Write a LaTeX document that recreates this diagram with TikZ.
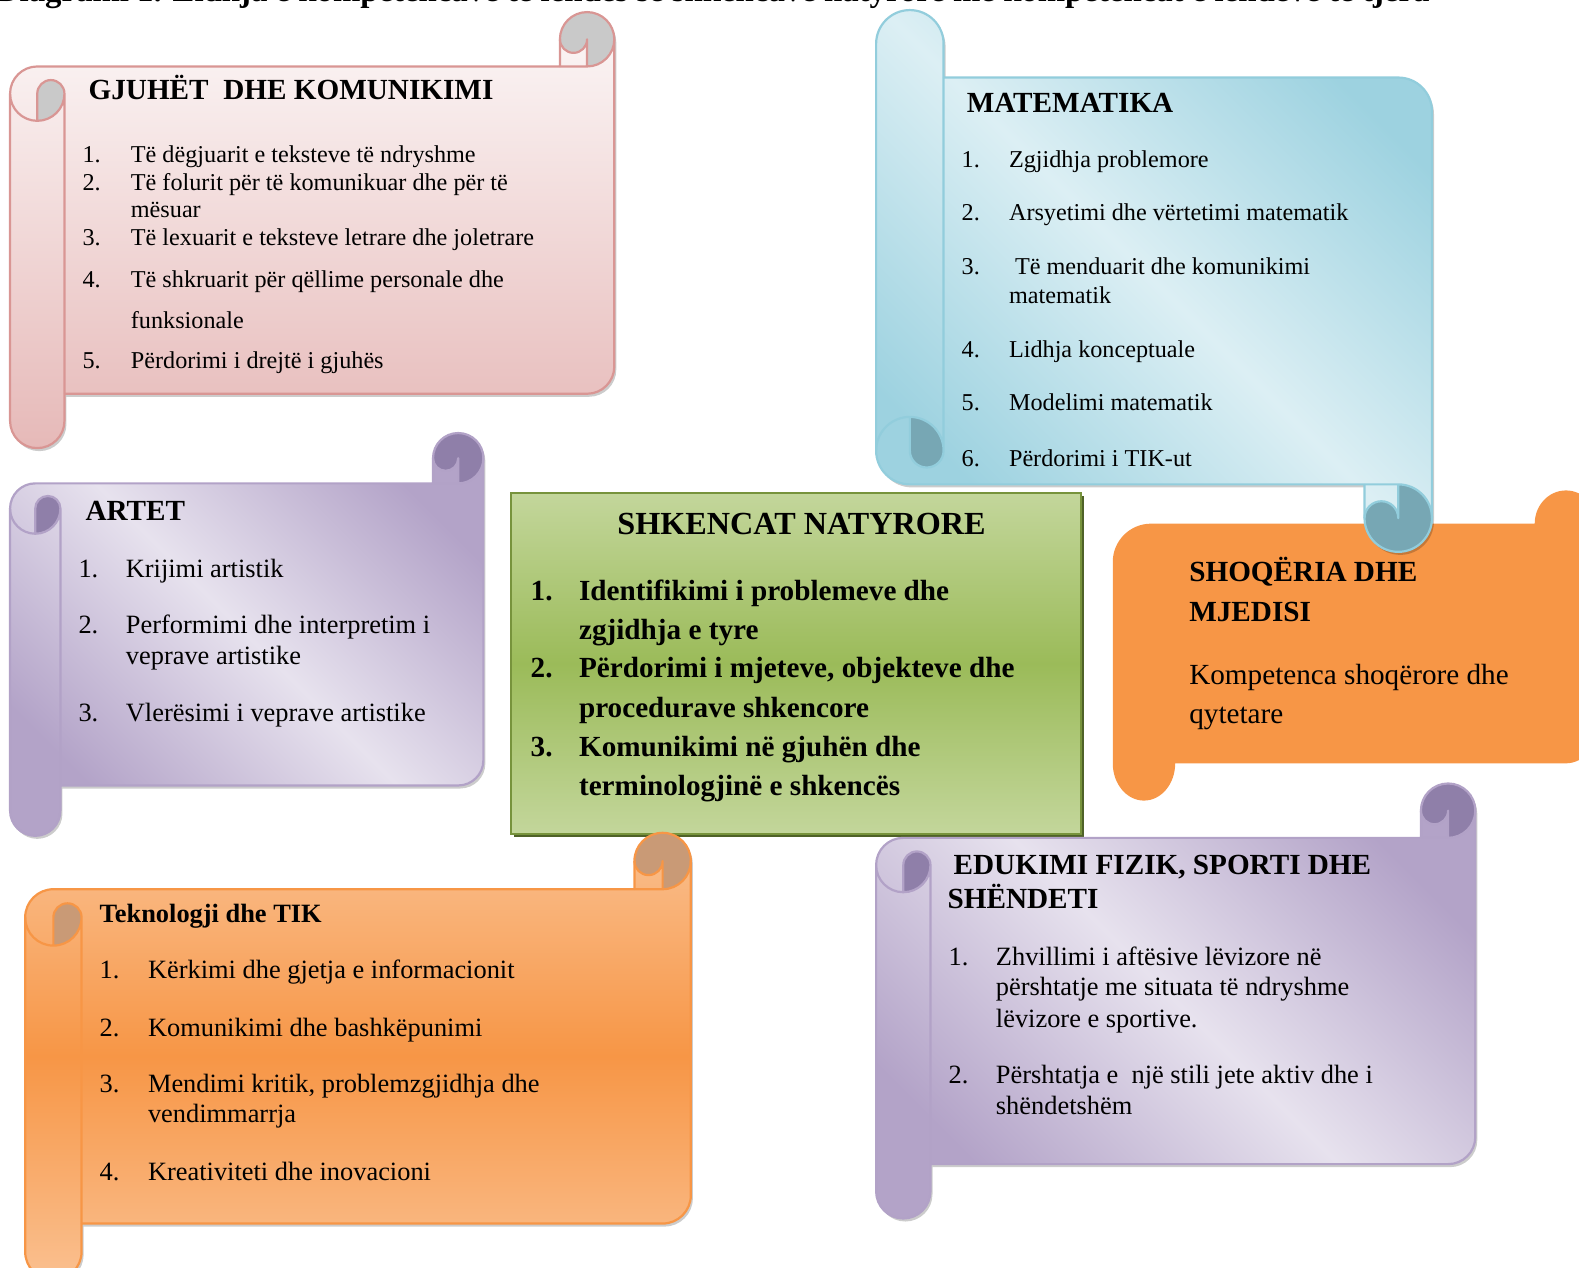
\documentclass[tikz,border=0pt]{standalone}
\usepackage{fontspec}
\setmainfont{Liberation Serif}
\definecolor{pinkline}{HTML}{D99694}
\definecolor{pinktop}{HTML}{FCF8F8}
\definecolor{pinkbot}{HTML}{E6B9B8}
\definecolor{curlgray}{HTML}{C9C9C9}
\definecolor{blueline}{HTML}{92CDDC}
\definecolor{bluedark}{HTML}{9DD2E0}
\definecolor{bluelight}{HTML}{DCEFF4}
\definecolor{bluecurl}{HTML}{77A7B4}
\definecolor{purpline}{HTML}{B2A2C7}
\definecolor{purpdark}{HTML}{B3A3C8}
\definecolor{purplight}{HTML}{E7E2EE}
\definecolor{purpcurl}{HTML}{8F7FA9}
\definecolor{orng}{HTML}{F79646}
\definecolor{orlight}{HTML}{FAC090}
\definecolor{orcurl}{HTML}{C99A76}
\definecolor{grnline}{HTML}{77933C}
\definecolor{grnshadow}{HTML}{4F6228}
\definecolor{grnlight}{HTML}{C3D69B}
\definecolor{grnmid}{HTML}{9BBB59}

\newcommand\scrollset[5]{\def\sL{#1}\def\sT{#2}\def\sR{#3}\def\sB{#4}\def\sC{#5}%
  \pgfmathsetmacro\sH{#5/2}\pgfmathsetmacro\sQ{#5/4}}
\newcommand\scrollpath{(\sL,\sT+1.5*\sC) arc[start angle=180,end angle=270,radius=\sH]
  -- (\sR-\sC,\sT+\sC) -- (\sR-\sC,\sT+\sH) arc[start angle=180,end angle=360,radius=\sH]
  -- (\sR,\sB-1.5*\sC) arc[start angle=0,end angle=90,radius=\sH]
  -- (\sL+\sC,\sB-\sC) -- (\sL+\sC,\sB-\sH) arc[start angle=0,end angle=180,radius=\sH] -- cycle}
\newcommand\curlApath{(\sL+\sH,\sT+2*\sC) arc[start angle=90,end angle=0,radius=\sH]
  arc[start angle=0,end angle=-180,radius=\sQ] -- cycle}
\newcommand\curlBpath{(\sR-\sH,\sT+\sC) arc[start angle=90,end angle=-180,radius=\sH]
  arc[start angle=180,end angle=0,radius=\sQ] -- cycle}
\newcommand\detailpath{(\sR-\sC,\sT+\sC) -- (\sR-\sH,\sT+\sC) arc[start angle=90,end angle=0,radius=\sH]
  (\sR-\sH,\sT+\sC) -- (\sR-\sH,\sT+\sH) arc[start angle=0,end angle=180,radius=\sQ]
  (\sL+\sH,\sT+2*\sC) -- (\sL+\sH,\sT+1.5*\sC) arc[start angle=180,end angle=360,radius=\sQ]
  arc[start angle=0,end angle=180,radius=\sH]
  (\sL+\sC,\sT+1.5*\sC) -- (\sL+\sC,\sB-\sC)}
\newcommand\drawscroll[4]{%
  \fill[black,opacity=.2,shift={#4}] \scrollpath;
  \shade[#1] \scrollpath;
  \fill[#3] \curlApath;
  \fill[#3] \curlBpath;
  \draw[#2,line width=1.1pt,line join=round] \scrollpath;
  \draw[#2,line width=1.1pt,line join=round] \detailpath;}

\tikzset{
 lbl/.style={anchor=base west, inner sep=0pt, outer sep=0pt},
 r12/.style={lbl, font=\fontsize{12.1}{14}\selectfont},
 r13/.style={lbl, font=\fontsize{13.2}{15}\selectfont},
 r145/.style={lbl, font=\fontsize{14.6}{17}\selectfont},
 b13/.style={lbl, font=\fontsize{13.2}{15}\selectfont\bfseries},
 b145/.style={lbl, font=\fontsize{14.6}{17}\selectfont\bfseries},
 b16/.style={anchor=base, inner sep=0pt, font=\fontsize{16.1}{19}\selectfont\bfseries},
 hdrfont/.style={lbl, font=\fontsize{16.4}{19}\selectfont\bfseries},
}

\begin{document}
\begin{tikzpicture}[x=0.50351pt,y=-0.50351pt]
\useasboundingbox (0,0) rectangle (1568,1259);
\begin{scope}
\clip (0,0) rectangle (1568,1259);

% header line (cut off at the top, as in the original)
\node[hdrfont] (hdr) at (-4,1) {Diagrami 1. Lidhja e kompetencave të lëndës së shkencave natyrore me kompetencat e lëndëve të tjera};

% GJUHET (pink)
\scrollset{10}{12}{610}{445}{54}
\drawscroll{top color=pinktop,bottom color=pinkbot}{pinkline}{curlgray}{(2,3)}

% ARTET (purple)
\scrollset{10}{430}{480}{830}{50}
\drawscroll{top color=purpdark,bottom color=purpdark,middle color=purplight,shading angle=-45}{purpline}{purpcurl}{(2,3)}

% SHOQERIA (orange solid)
\fill[orng] (1105,558) arc[start angle=180,end angle=270,radius=38] -- (1524,520)
  arc[start angle=180,end angle=360,x radius=31,y radius=33] -- (1586,722)
  arc[start angle=0,end angle=90,x radius=31,y radius=36] -- (1167,758)
  arc[start angle=0,end angle=180,x radius=31,y radius=37] -- cycle;

% MATEMATIKA (blue, flipped)
\begin{scope}[shift={(0,558)},yscale=-1]
\scrollset{870}{10}{1422}{548}{67}
\drawscroll{top color=bluedark,bottom color=bluedark,middle color=bluelight,shading angle=-45}{blueline}{bluecurl}{(2,-3)}
\end{scope}

% SHKENCAT NATYRORE (green box)
\fill[grnshadow] (510,493) rectangle (1076,831);
\shade[top color=grnlight,bottom color=grnlight,middle color=grnmid] (507,490) rectangle (1073,828);
\draw[grnline,line width=1pt] (507,490) rectangle (1073,828);

% Teknologji (orange scroll)
\scrollset{25}{827}{686}{1271}{56}
\drawscroll{top color=orlight,bottom color=orlight,middle color=orng}{orng}{orcurl}{(2,3)}

% EDUKIMI (purple)
\scrollset{870}{778}{1465}{1210}{54}
\drawscroll{top color=purpdark,bottom color=purpdark,middle color=purplight,shading angle=-45}{purpline}{purpcurl}{(2,3)}

% ---- texts: GJUHET
\node[b145] (g0) at (88,99) {GJUHËT\ \ DHE KOMUNIKIMI};
\node[r12] (g1n) at (82,161) {1.};
\node[r12] (g1) at (130,161) {Të dëgjuarit e teksteve të ndryshme};
\node[r12] (g2n) at (82,189) {2.};
\node[r12] (g2) at (130,189) {Të folurit për të komunikuar dhe për të};
\node[r12] (g2b) at (130,216) {mësuar};
\node[r12] (g3n) at (82,244) {3.};
\node[r12] (g3) at (130,244) {Të lexuarit e teksteve letrare dhe joletrare};
\node[r12] (g4n) at (82,285) {4.};
\node[r12] (g4) at (130,285) {Të shkruarit për qëllime personale dhe};
\node[r12] (g4b) at (130,326) {funksionale};
\node[r12] (g5n) at (82,366) {5.};
\node[r12] (g5) at (130,366) {Përdorimi i drejtë i gjuhës};

% MATEMATIKA
\node[b145] (m0) at (960,112) {MATEMATIKA};
\node[r12] (m1n) at (955,166) {1.};
\node[r12] (m1) at (1002,166) {Zgjidhja problemore};
\node[r12] (m2n) at (955,219) {2.};
\node[r12] (m2) at (1002,219) {Arsyetimi dhe vërtetimi matematik};
\node[r12] (m3n) at (955,273) {3.};
\node[r12] (m3) at (1008,273) {Të menduarit dhe komunikimi};
\node[r12] (m3b) at (1002,301) {matematik};
\node[r12] (m4n) at (955,355) {4.};
\node[r12] (m4) at (1002,355) {Lidhja konceptuale};
\node[r12] (m5n) at (955,408) {5.};
\node[r12] (m5) at (1002,408) {Modelimi matematik};
\node[r12] (m6n) at (955,463) {6.};
\node[r12] (m6) at (1002,463) {Përdorimi i TIK-ut};

% ARTET
\node[b145] (a0) at (85,517) {ARTET};
\node[r13] (a1n) at (78,573) {1.};
\node[r13] (a1) at (125,573) {Krijimi artistik};
\node[r13] (a2n) at (78,629) {2.};
\node[r13] (a2) at (125,629) {Performimi dhe interpretim i};
\node[r13] (a2b) at (125,660) {veprave artistike};
\node[r13] (a3n) at (78,716) {3.};
\node[r13] (a3) at (125,716) {Vlerësimi i veprave artistike};

% SHKENCAT NATYRORE
\node[b16] (s0) at (796,531) {SHKENCAT NATYRORE};
\node[b145] (s1n) at (527,596) {1.};
\node[b145] (s1) at (575,596) {Identifikimi i problemeve dhe};
\node[b145] (s1b) at (575,635) {zgjidhja e tyre};
\node[b145] (s2n) at (527,673) {2.};
\node[b145] (s2) at (575,673) {Përdorimi i mjeteve, objekteve dhe};
\node[b145] (s2b) at (575,712) {procedurave shkencore};
\node[b145] (s3n) at (527,751) {3.};
\node[b145] (s3) at (575,751) {Komunikimi në gjuhën dhe};
\node[b145] (s3b) at (575,790) {terminologjinë e shkencës};

% SHOQERIA
\node[b145] (o0) at (1181,577) {SHOQËRIA DHE};
\node[b145] (o0b) at (1181,617) {MJEDISI};
\node[r145] (o1) at (1181,680) {Kompetenca shoqërore dhe};
\node[r145] (o1b) at (1181,718) {qytetare};

% Teknologji
\node[b13] (k0) at (99,916) {Teknologji dhe TIK};
\node[r13] (k1n) at (99,972) {1.};
\node[r13] (k1) at (147,972) {Kërkimi dhe gjetja e informacionit};
\node[r13] (k2n) at (99,1029) {2.};
\node[r13] (k2) at (147,1029) {Komunikimi dhe bashkëpunimi};
\node[r13] (k3n) at (99,1085) {3.};
\node[r13] (k3) at (147,1085) {Mendimi kritik, problemzgjidhja dhe};
\node[r13] (k3b) at (147,1115) {vendimmarrja};
\node[r13] (k4n) at (99,1172) {4.};
\node[r13] (k4) at (147,1172) {Kreativiteti dhe inovacioni};

% EDUKIMI
\node[b145] (e0) at (947,868) {EDUKIMI FIZIK, SPORTI DHE};
\node[b145] (e0b) at (941,902) {SHËNDETI};
\node[r13] (e1n) at (942,959) {1.};
\node[r13] (e1) at (989,959) {Zhvillimi i aftësive lëvizore në};
\node[r13] (e1b) at (989,989) {përshtatje me situata të ndryshme};
\node[r13] (e1c) at (989,1020) {lëvizore e sportive.};
\node[r13] (e2n) at (942,1076) {2.};
\node[r13] (e2) at (989,1076) {Përshtatja e\ \ një stili jete aktiv dhe i};
\node[r13] (e2b) at (989,1107) {shëndetshëm};
\end{scope}
\end{tikzpicture}
\end{document}
